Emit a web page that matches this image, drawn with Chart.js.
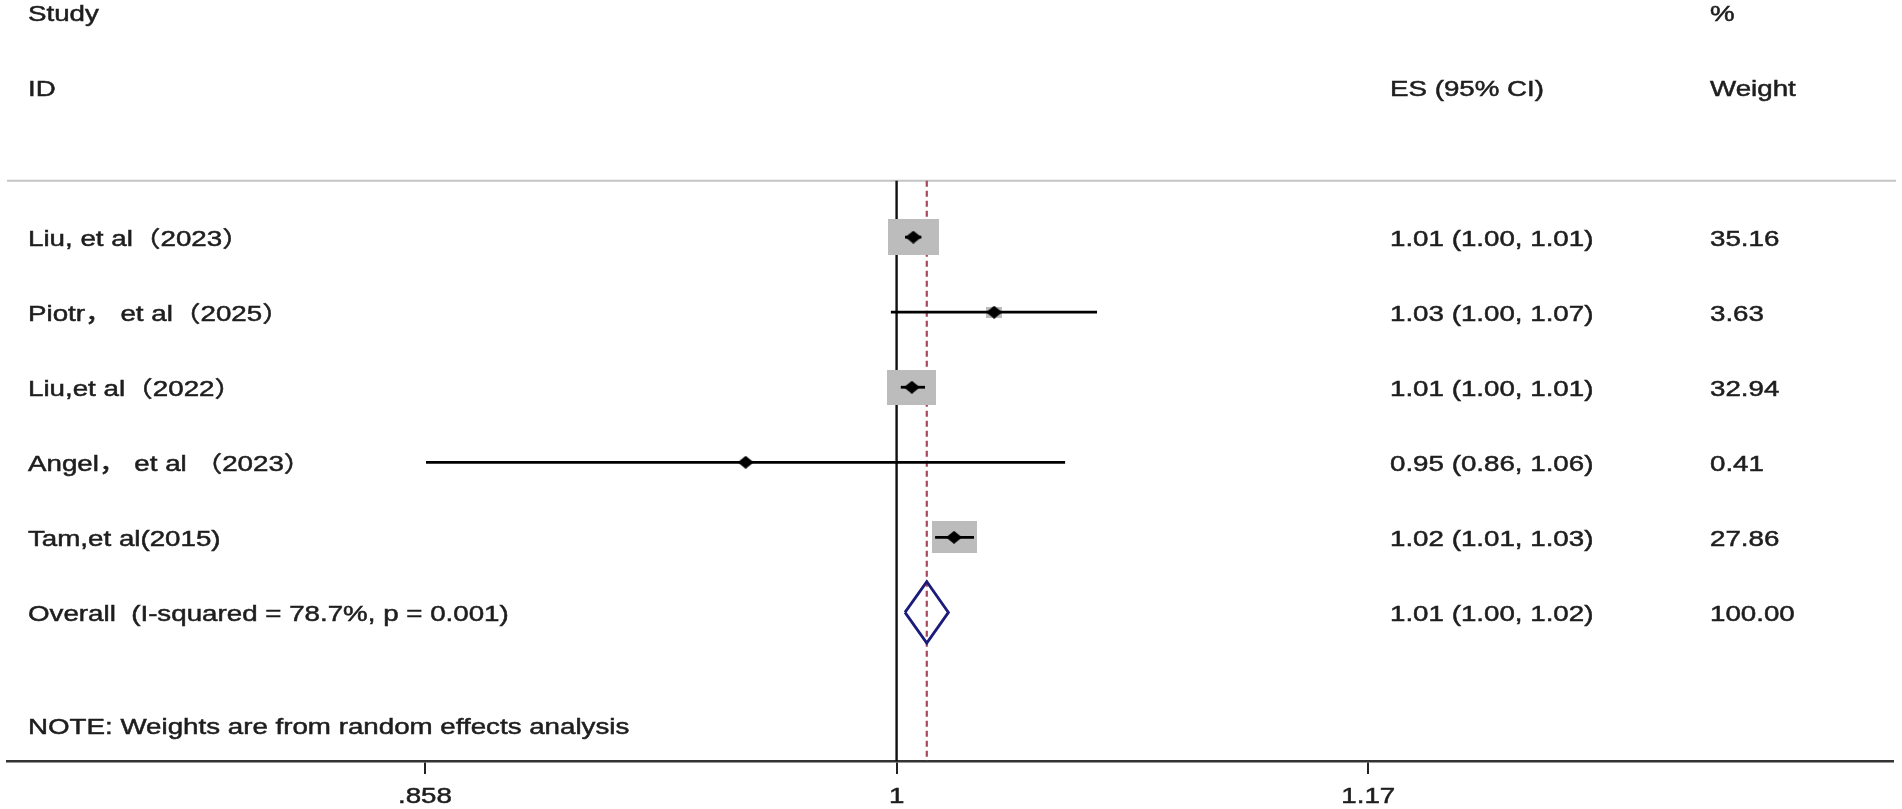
<!DOCTYPE html>
<html lang="en">
<head>
  <meta charset="UTF-8" />
  <title>Forest plot</title>
  <script src="https://cdn.jsdelivr.net/npm/chart.js"></script>
  <style>
    html, body {
      margin: 0;
      padding: 0;
      background: #fff;
    }
    #wrap {
      width: 1902px;
      height: 809px;
    }
  </style>
</head>
<body>
  <div id="wrap"><canvas id="forest"></canvas></div>

  <script>
    // study rows (top to bottom)
    const studies = ["Liu, et al（2023）", "Piotr， et al（2025）", "Liu,et al（2022）", "Angel， et al （2023）", "Tam,et al(2015)"];
    const esValues = [1.0056, 1.0330, 1.0051, 0.9510, 1.0193];
    const ciLower = [1.0028, 0.9981, 1.0014, 0.8550, 1.0129];
    const ciUpper = [1.0083, 1.0690, 1.0095, 1.0577, 1.0261];
    const esLabels = ["1.01 (1.00, 1.01)", "1.03 (1.00, 1.07)", "1.01 (1.00, 1.01)", "0.95 (0.86, 1.06)", "1.02 (1.01, 1.03)"];
    const weights = [35.16, 3.63, 32.94, 0.41, 27.86];

    // pooled estimate
    const overallLabel = "Overall  (I-squared = 78.7%, p = 0.001)";
    const overallES = 1.0101;
    const overallLower = 1.0028;
    const overallUpper = 1.0174;
    const overallESLabel = "1.01 (1.00, 1.02)";
    const overallWeight = 100;

    const noteText = "NOTE: Weights are from random effects analysis";
    const nullValue = 1;

    // x axis (tick positions)
    const tickValues = [0.8547, 1, 1.17];
    const tickLabels = [".858", "1", "1.17"];

    // layout / style constants
    const FONT = '22px "Liberation Sans", Arial, "Noto Sans CJK SC", sans-serif';
    const SX = 1.26;          // horizontal text stretch of the original figure
    const TEXT = "#1e1e1e";
    const SEP_ROW = 0.25;     // grey rule under the header
    const Y_MIN = -2.16, Y_MAX = 7.98;
    const overallRow = studies.length + 1;

    function boxCanvas(w) {
      const bw = 8.6 * Math.sqrt(w);
      const bh = bw * 0.7;
      const c = document.createElement("canvas");
      c.width = Math.max(1, Math.round(bw));
      c.height = Math.max(1, Math.round(bh));
      const g = c.getContext("2d");
      g.fillStyle = "#bcbcbc";
      g.fillRect(0, 0, c.width, c.height);
      return c;
    }

    function diamondCanvas(w, h) {
      const c = document.createElement("canvas");
      c.width = w;
      c.height = h;
      const g = c.getContext("2d");
      g.fillStyle = "#000";
      g.beginPath();
      g.moveTo(w / 2, 0);
      g.lineTo(w, h / 2);
      g.lineTo(w / 2, h);
      g.lineTo(0, h / 2);
      g.closePath();
      g.fill();
      return c;
    }

    const marker = diamondCanvas(16, 13);
    const rows = studies.map((s, i) => i + 1);

    const datasets = [];

    // point estimates (drawn on top)
    datasets.push({
      data: esValues.map((v, i) => ({ x: v, y: rows[i] })),
      pointStyle: marker,
      pointRadius: 7,
      order: 0
    });

    // confidence intervals
    esValues.forEach((v, i) => {
      datasets.push({
        data: [{ x: ciLower[i], y: rows[i] }, { x: ciUpper[i], y: rows[i] }],
        showLine: true,
        borderColor: "#000",
        borderWidth: 2.8,
        pointRadius: 0,
        order: 1
      });
    });

    // weight boxes
    datasets.push({
      data: esValues.map((v, i) => ({ x: v, y: rows[i] })),
      pointStyle: weights.map(w => boxCanvas(w)),
      pointRadius: 10,
      order: 2
    });

    // overall diamond
    datasets.push({
      data: [
        { x: overallLower, y: overallRow },
        { x: overallES, y: overallRow - 0.41 },
        { x: overallUpper, y: overallRow },
        { x: overallES, y: overallRow + 0.41 },
        { x: overallLower, y: overallRow }
      ],
      showLine: true,
      borderColor: "#1b1b7c",
      borderWidth: 2.8,
      borderJoinStyle: "miter",
      pointRadius: 0,
      order: 1
    });

    // no-effect line
    datasets.push({
      data: [{ x: nullValue, y: SEP_ROW }, { x: nullValue, y: Y_MAX }],
      showLine: true,
      borderColor: "#111",
      borderWidth: 2.4,
      pointRadius: 0,
      order: 3
    });

    // pooled estimate line
    datasets.push({
      data: [{ x: overallES, y: SEP_ROW }, { x: overallES, y: Y_MAX }],
      showLine: true,
      borderColor: "#a8485c",
      borderWidth: 2.2,
      borderDash: [6, 4],
      pointRadius: 0,
      order: 3
    });

    function put(ctx, str, x, y, align) {
      ctx.save();
      ctx.translate(x, y);
      ctx.scale(SX, 1);
      ctx.textAlign = align || "left";
      ctx.fillText(str, 0, 0);
      ctx.strokeText(str, 0, 0);
      ctx.restore();
    }

    const textPlugin = {
      id: "forestText",
      beforeDatasetsDraw(chart) {
        const { ctx, chartArea, scales } = chart;
        const y = scales.y.getPixelForValue(SEP_ROW);
        ctx.save();
        ctx.strokeStyle = "#c4c4c4";
        ctx.lineWidth = 2;
        ctx.beginPath();
        ctx.moveTo(chartArea.left, y);
        ctx.lineTo(chart.width - 6, y);
        ctx.stroke();
        ctx.restore();
      },
      afterDraw(chart) {
        const { ctx, scales } = chart;
        const ys = v => scales.y.getPixelForValue(v) + 3;
        const colLabel = 28, colES = 1390, colW = 1710;
        ctx.save();
        ctx.font = FONT;
        ctx.fillStyle = TEXT;
        ctx.strokeStyle = TEXT;
        ctx.lineWidth = 0.5;
        ctx.textBaseline = "middle";

        put(ctx, "Study", colLabel, ys(-2));
        put(ctx, "%", colW, ys(-2));
        put(ctx, "ID", colLabel, ys(-1));
        put(ctx, "ES (95% CI)", colES, ys(-1));
        put(ctx, "Weight", colW, ys(-1));

        studies.forEach((s, i) => {
          put(ctx, s, colLabel, ys(rows[i]));
          put(ctx, esLabels[i], colES, ys(rows[i]));
          put(ctx, weights[i].toFixed(2), colW, ys(rows[i]));
        });

        put(ctx, overallLabel, colLabel, ys(overallRow));
        put(ctx, overallESLabel, colES, ys(overallRow));
        put(ctx, overallWeight.toFixed(2), colW, ys(overallRow));

        put(ctx, noteText, colLabel, ys(overallRow + 1.5));

        // x tick labels
        const xs = scales.x;
        xs.ticks.forEach((t, i) => {
          put(ctx, tickLabels[i], xs.getPixelForValue(t.value), xs.top + 36, "center");
        });
        ctx.restore();
      }
    };

    new Chart(document.getElementById("forest"), {
      type: "scatter",
      data: { datasets },
      options: {
        responsive: true,
        maintainAspectRatio: false,
        animation: false,
        layout: { autoPadding: false, padding: { left: 7, right: 9, top: 0, bottom: 0 } },
        plugins: {
          legend: { display: false },
          tooltip: { enabled: false }
        },
        scales: {
          x: {
            type: "logarithmic",
            min: 0.7437,
            max: 1.3933,
            afterBuildTicks: scale => {
              scale.ticks = tickValues.map(v => ({ value: v }));
            },
            afterFit: scale => {
              scale.height = 48;
            },
            ticks: { display: false },
            grid: {
              display: true,
              drawOnChartArea: false,
              drawTicks: true,
              tickLength: 13,
              color: "#222",
              lineWidth: 2
            },
            border: { display: true, color: "#333", width: 2.6 }
          },
          y: {
            type: "linear",
            reverse: true,
            min: Y_MIN,
            max: Y_MAX,
            display: false
          }
        }
      },
      plugins: [textPlugin]
    });
  </script>
</body>
</html>
